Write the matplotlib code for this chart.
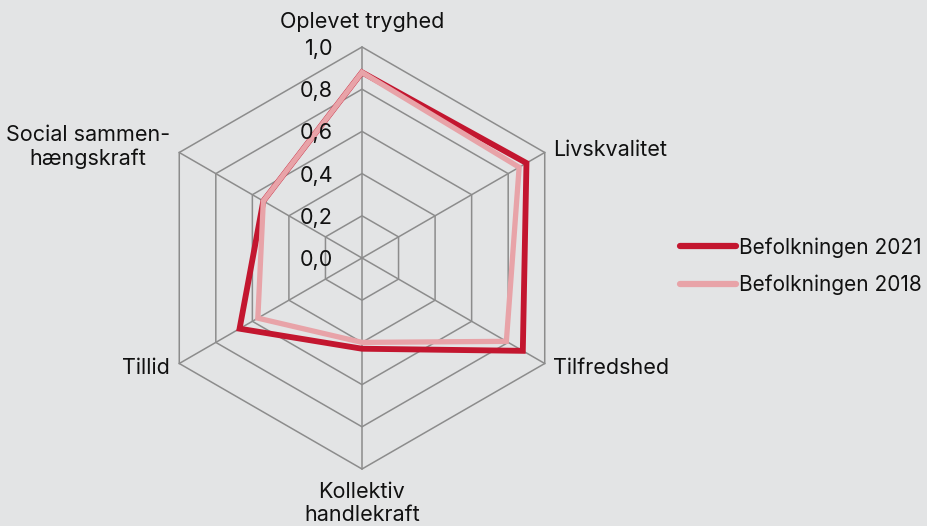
import numpy as np
import matplotlib
matplotlib.use("Agg")
import matplotlib.pyplot as plt
from matplotlib.patches import Polygon
from matplotlib.lines import Line2D

plt.rcParams['font.family'] = ['Inter', 'DejaVu Sans']

categories = ["Oplevet tryghed", "Livskvalitet", "Tilfredshed",
              "Kollektiv\nhandlekraft", "Tillid", "Social sammen-\nhængskraft"]
values_2021 = [0.88, 0.90, 0.88, 0.43, 0.67, 0.54]
values_2018 = [0.88, 0.86, 0.79, 0.40, 0.57, 0.54]
series_names = ["Befolkningen 2021", "Befolkningen 2018"]
tick_values = [0.0, 0.2, 0.4, 0.6, 0.8, 1.0]
tick_labels = ["0,0", "0,2", "0,4", "0,6", "0,8", "1,0"]

BG = "#E3E4E5"
RED = "#C3162F"
PINK = "#E8A3A8"
GRID = "#8C8C8C"
TXT = "#111111"
FS = 15.5

W, H = 928, 526
fig = plt.figure(figsize=(W / 100, H / 100), dpi=100, facecolor=BG)
ax = fig.add_axes([0, 0, 1, 1])
ax.set_facecolor(BG)
cx, cy, R = 362, 258, 211
ax.set_xlim(-cx / R, (W - cx) / R)
ax.set_ylim(-(H - cy) / R, cy / R)
ax.set_aspect('equal')
ax.axis('off')

n = len(categories)
angles = np.deg2rad(90 - 60 * np.arange(n))
ca, sa = np.cos(angles), np.sin(angles)

# grid rings
for t in tick_values[1:]:
    ax.add_patch(Polygon(np.column_stack([t * ca, t * sa]), closed=True, fill=False,
                         edgecolor=GRID, lw=1.1, zorder=1))
# spokes
for i in range(n):
    ax.plot([0, ca[i]], [0, sa[i]], color=GRID, lw=1.1, zorder=1)

# series
handles = []
for vals, col, lw, name in [(values_2021, RED, 4.2, series_names[0]),
                            (values_2018, PINK, 3.8, series_names[1])]:
    v = np.array(vals)
    ax.add_patch(Polygon(np.column_stack([v * ca, v * sa]), closed=True, fill=False,
                         edgecolor=col, lw=lw, joinstyle='miter', zorder=3))
    handles.append(Line2D([], [], color=col, lw=4.5, solid_capstyle='round', label=name))

# tick labels
for t, lab in zip(tick_values, tick_labels):
    ax.text(-29 / R, t - 2 / R, lab, ha='right', va='center', fontsize=FS, color=TXT, zorder=4)

# category labels
off = 8 / R
for i, lab in enumerate(categories):
    x, y = ca[i], sa[i]
    if i == 0:
        ax.text(x, y + 0.07, lab, ha='center', va='bottom', fontsize=FS, color=TXT)
    elif i == 3:
        ax.text(x, y - 0.06, lab, ha='center', va='top', fontsize=FS, color=TXT,
                multialignment='center', linespacing=1.2)
    elif i == 1:
        ax.text(x + off, y + 0.01, lab, ha='left', va='center', fontsize=FS, color=TXT)
    elif i == 2:
        ax.text(x + off, y - 0.02, lab, ha='left', va='center', fontsize=FS, color=TXT)
    elif i == 4:
        ax.text(x - off - 0.005, y - 0.02, lab, ha='right', va='center', fontsize=FS, color=TXT)
    else:
        ax.text(x - off - 0.005, y + 0.025, lab, ha='right', va='center', fontsize=FS, color=TXT,
                multialignment='center', linespacing=1.2)

leg = fig.legend(handles=handles, loc='center left', bbox_to_anchor=(680 / W, 1 - 266 / H),
                 frameon=False, fontsize=15, handlelength=2.7, handletextpad=0.15,
                 labelspacing=0.8, borderaxespad=0, borderpad=0)
for t in leg.get_texts():
    t.set_color(TXT)

fig.savefig("out.png", dpi=100, facecolor=BG)
